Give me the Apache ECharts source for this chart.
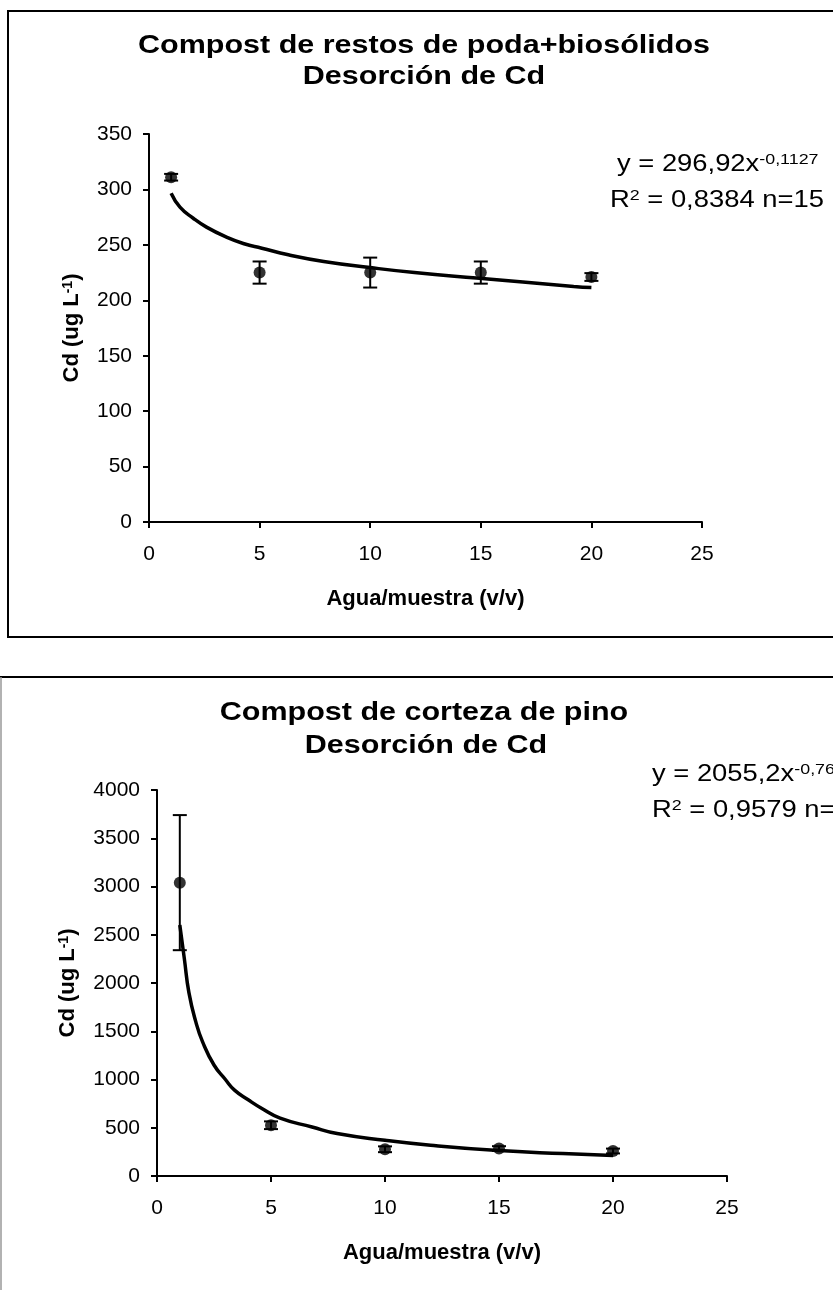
<!DOCTYPE html>
<html>
<head>
<meta charset="utf-8">
<script src="https://cdn.jsdelivr.net/npm/echarts@6/dist/echarts.min.js"></script>
<style>
html,body{margin:0;padding:0;background:#fff;}
#chart{width:833px;height:1290px;}
</style>
</head>
<body>
<div id="chart"></div>
<script>
// ---- Chart 1: Compost de restos de poda+biosólidos ----
var xTicks = [0, 5, 10, 15, 20, 25];
var c1X = [1, 5, 10, 15, 20];
var c1Mean = [311, 225, 225, 225, 221];
var c1Err = [3, 10, 13.5, 10, 3.5];
var c1TrendX = [1, 1.4, 2, 2.6, 3.5, 4.3, 5.1, 6.3, 7.9, 10, 12, 14.8, 16.9, 19.2, 20];
var c1TrendY = [296.5, 284, 274, 266, 257, 251, 247, 241, 235, 229.5, 225, 220, 216.5, 212.5, 211.5];

// ---- Chart 2: Compost de corteza de pino ----
var c2X = [1, 5, 10, 15, 20];
var c2Mean = [3040, 526, 277, 284, 259];
var c2Err = [700, 40, 30, 25, 25];
var c2TrendX = [1, 1.2, 1.4, 1.7, 2, 2.5, 3, 3.4, 4, 4.6, 5.4, 6.8, 7.9, 10, 12, 14.8, 17.8, 20];
var c2TrendY = [2600, 2250, 1900, 1600, 1390, 1150, 1000, 890, 790, 700, 600, 508, 440, 370, 318, 266, 232, 213];

var titles1 = ['Compost de restos de poda+biosólidos', 'Desorción de Cd'];
var titles2 = ['Compost de corteza de pino', 'Desorción de Cd'];
var xName = 'Agua/muestra (v/v)';
var eq1 = ['y = 296,92x', '-0,1127', ' = 0,8384 n=15'];
var eq2 = ['y = 2055,2x', '-0,764', ' = 0,9579 n=15'];

var FONT = '"Liberation Sans", Arial, sans-serif';

function pairs(xs, ys) { return xs.map(function (x, i) { return [x, ys[i]]; }); }
function errData(xs, m, e) { return xs.map(function (x, i) { return [x, m[i] - e[i], m[i] + e[i]]; }); }

function errorRender(params, api) {
  var x = api.value(0);
  var lo = api.coord([x, api.value(1)]);
  var hi = api.coord([x, api.value(2)]);
  var hw = 7;
  var st = { stroke: '#000', lineWidth: 2 };
  return {
    type: 'group',
    children: [
      { type: 'line', shape: { x1: lo[0], y1: lo[1], x2: hi[0], y2: hi[1] }, style: st },
      { type: 'line', shape: { x1: lo[0] - hw, y1: lo[1], x2: lo[0] + hw, y2: lo[1] }, style: st },
      { type: 'line', shape: { x1: hi[0] - hw, y1: hi[1], x2: hi[0] + hw, y2: hi[1] }, style: st }
    ]
  };
}

var axisLineStyle = { lineStyle: { color: '#000', width: 2 } };
var tickStyle = { show: true, inside: false, length: 6, lineStyle: { color: '#000', width: 2 } };
var labelStyle = { color: '#000', fontSize: 21, fontFamily: FONT };

function xAxisDef(gi) {
  return {
    type: 'value', gridIndex: gi, min: 0, max: 25, interval: 5,
    axisLine: axisLineStyle, axisTick: tickStyle,
    axisLabel: Object.assign({ margin: 22, formatter: function (v) { return String(v); } }, labelStyle),
    splitLine: { show: false },
    name: xName, nameLocation: 'middle', nameGap: 66,
    nameTextStyle: { color: '#000', fontSize: 22, fontWeight: 'bold', fontFamily: FONT }
  };
}
function yAxisDef(gi, max, interval, gap) {
  return {
    type: 'value', gridIndex: gi, min: 0, max: max, interval: interval,
    axisLine: axisLineStyle, axisTick: tickStyle,
    axisLabel: Object.assign({ margin: 17, formatter: function (v) { return String(v); } }, labelStyle),
    splitLine: { show: false },
    name: '{b|Cd (ug L}{s|-1}{b|)}', nameLocation: 'middle', nameGap: gap, nameRotate: 90,
    nameTextStyle: {
      color: '#000', fontFamily: FONT,
      rich: {
        b: { fontSize: 22, fontWeight: 'bold', fontFamily: FONT, color: '#000' },
        s: { fontSize: 14, fontWeight: 'bold', fontFamily: FONT, color: '#000', verticalAlign: 'top', lineHeight: 14 }
      }
    }
  };
}

var eqRich = {
  a: { fontSize: 23, fontFamily: FONT, color: '#000', lineHeight: 26 },
  s: { fontSize: 15, fontFamily: FONT, color: '#000', verticalAlign: 'top', lineHeight: 15 }
};
function eqText(x1, y1, x2, y2, eq) {
  return [
    { type: 'text', x: x1, y: y1, scaleX: 1.19,
      style: { text: '{a|' + eq[0] + '}{s|' + eq[1] + '}', rich: eqRich, align: 'left', verticalAlign: 'middle' } },
    { type: 'text', x: x2, y: y2, scaleX: 1.19,
      style: { text: '{a|R}{s|2}{a|' + eq[2] + '}', rich: eqRich, align: 'left', verticalAlign: 'middle' } }
  ];
}
function titleText(cx, y, txt) {
  return { type: 'text', x: cx, y: y, scaleX: 1.22,
    style: { text: txt, fontSize: 25, fontWeight: 'bold', fontFamily: FONT, fill: '#000', align: 'center', verticalAlign: 'middle' } };
}

var chart = echarts.init(document.getElementById('chart'), null, { renderer: 'canvas' });

var graphics = [
  { type: 'rect', shape: { x: 8, y: 11, width: 900, height: 626 }, style: { fill: 'none', stroke: '#000', lineWidth: 2 }, z: -1 },
  { type: 'line', shape: { x1: 0, y1: 677, x2: 833, y2: 677 }, style: { stroke: '#000', lineWidth: 2 }, z: -1 },
  { type: 'line', shape: { x1: 1, y1: 677, x2: 1, y2: 1290 }, style: { stroke: '#999', lineWidth: 1.5 }, z: -1 },
  titleText(424, 46, titles1[0]),
  titleText(424, 77, titles1[1]),
  titleText(424, 713, titles2[0]),
  titleText(426, 746, titles2[1])
].concat(
  eqText(617, 165, 610, 201, eq1),
  eqText(652, 775, 652, 811, eq2)
);

var option = {
  backgroundColor: '#fff',
  animation: false,
  grid: [
    { left: 149, top: 134, width: 553, height: 388 },
    { left: 157, top: 790, width: 570, height: 386 }
  ],
  xAxis: [xAxisDef(0), xAxisDef(1)],
  yAxis: [yAxisDef(0, 350, 50, 66), yAxisDef(1, 4000, 500, 78)],
  graphic: graphics,
  series: [
    { type: 'line', xAxisIndex: 0, yAxisIndex: 0, data: pairs(c1TrendX, c1TrendY), smooth: true, showSymbol: false,
      lineStyle: { color: '#000', width: 3.5 }, z: 2 },
    { type: 'custom', xAxisIndex: 0, yAxisIndex: 0, data: errData(c1X, c1Mean, c1Err), renderItem: errorRender, z: 3 },
    { type: 'scatter', xAxisIndex: 0, yAxisIndex: 0, data: pairs(c1X, c1Mean), symbol: 'circle', symbolSize: 12,
      itemStyle: { color: '#000' }, z: 4 },
    { type: 'line', xAxisIndex: 1, yAxisIndex: 1, data: pairs(c2TrendX, c2TrendY), smooth: true, showSymbol: false,
      lineStyle: { color: '#000', width: 3.5 }, z: 2 },
    { type: 'custom', xAxisIndex: 1, yAxisIndex: 1, data: errData(c2X, c2Mean, c2Err), renderItem: errorRender, z: 3 },
    { type: 'scatter', xAxisIndex: 1, yAxisIndex: 1, data: pairs(c2X, c2Mean), symbol: 'circle', symbolSize: 12,
      itemStyle: { color: '#000' }, z: 4 }
  ]
};
chart.setOption(option);
</script>
</body>
</html>
